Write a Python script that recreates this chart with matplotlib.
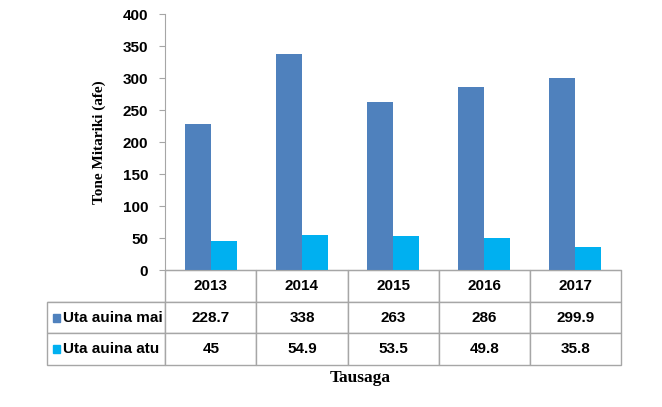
import numpy as np
import matplotlib.pyplot as plt
from matplotlib.patches import Rectangle

years = ['2013', '2014', '2015', '2016', '2017']
series_names = ['Uta auina mai', 'Uta auina atu']
uta_mai = [228.7, 338, 263, 286, 299.9]
uta_atu = [45, 54.9, 53.5, 49.8, 35.8]
mai_labels = ['228.7', '338', '263', '286', '299.9']
atu_labels = ['45', '54.9', '53.5', '49.8', '35.8']
colors = ['#4F81BD', '#00B0F0']
grid_col = '#A6A6A6'

plt.rcParams['font.family'] = ['Liberation Sans Narrow', 'Liberation Sans', 'DejaVu Sans']

fig = plt.figure(figsize=(6.62, 4.07), dpi=100)
ax = fig.add_axes([165/662, 1-270/407, 456/662, 256/407])

x = np.arange(len(years))
w = 0.285
ax.bar(x - w/2, uta_mai, w, color=colors[0])
ax.bar(x + w/2, uta_atu, w, color=colors[1])

ax.set_xlim(-0.5, len(years) - 0.5)
ax.set_ylim(0, 400)
ax.set_yticks(range(0, 401, 50))
ax.tick_params(axis='y', length=4, color=grid_col, labelsize=11, pad=8)
for t in ax.get_yticklabels():
    t.set_fontweight('bold')
ax.set_xticks([])
for s in ['top', 'right']:
    ax.spines[s].set_visible(False)
for s in ['left', 'bottom']:
    ax.spines[s].set_color(grid_col)

ax.set_ylabel('Tone Mitariki (afe)', family='Liberation Serif', fontweight='bold',
              fontsize=11, labelpad=12)

# data table below the axis
cell_text = [[''] + years,
             [series_names[0]] + mai_labels,
             [series_names[1]] + atu_labels]
left = (47 - 165) / 456
tbl = ax.table(cellText=cell_text, bbox=[left, -95/256, 1 - left, 95/256],
               cellLoc='center')
tbl.auto_set_font_size(False)
first_w = 118 / 574
other_w = 91 / 574
for (r, c), cell in tbl.get_celld().items():
    cell.set_edgecolor(grid_col)
    cell.set_linewidth(1.0)
    cell.set_width(first_w if c == 0 else other_w)
    cell.get_text().set_fontsize(11)
    cell.get_text().set_fontweight('bold')
    if r == 0 and c == 0:
        cell.visible_edges = 'B'
    if c == 0 and r > 0:
        cell.get_text().set_horizontalalignment('left')
        cell.PAD = 0.135

# legend keys in the row labels
row_h = 95 / 256 / 3
for i in range(2):
    yc = -row_h * (1.5 + i)
    ax.add_patch(Rectangle((left + 6/456, yc - 4/256), 7/456, 8/256,
                           transform=ax.transAxes, color=colors[i], clip_on=False))

fig.text(360/662, 1-378/407, 'Tausaga', family='Liberation Serif', fontweight='bold',
         fontsize=12.5, ha='center', va='center')

fig.savefig('out.png', dpi=100)
